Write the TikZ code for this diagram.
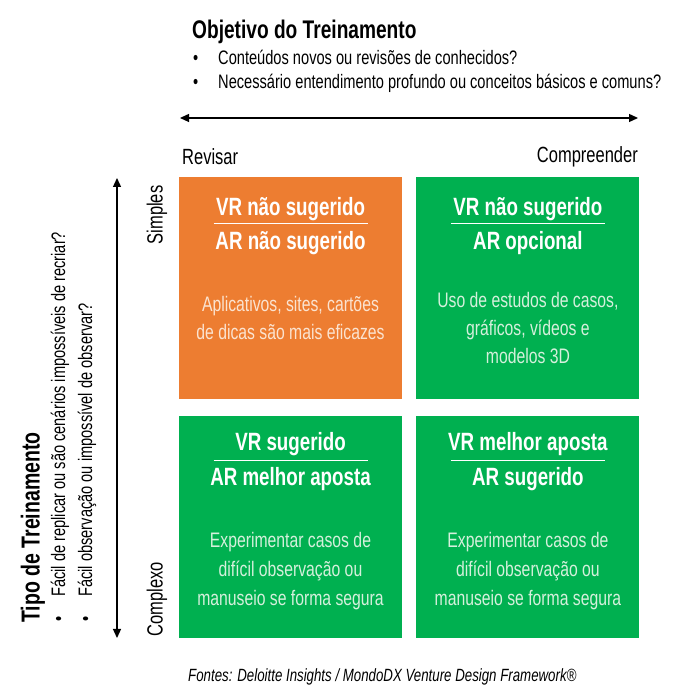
\documentclass[tikz,border=0pt]{standalone}
\usepackage{fontspec}
\setmainfont{Liberation Sans}[FakeStretch=0.75]
\usepackage{tikz}
\usetikzlibrary{arrows.meta,positioning,calc}
\definecolor{quadOrange}{HTML}{ED7D31}
\definecolor{quadGreen}{HTML}{00B050}
\definecolor{peach}{HTML}{FBE3D0}
\definecolor{mint}{HTML}{D5F0DC}

\begin{document}
\begin{tikzpicture}[
        x=1pt, y=1pt,
        node distance=14pt,
        quad/.style={rectangle, minimum width=223pt, minimum height=222pt, inner sep=0pt},
        head/.style={font=\fontsize{25}{28}\selectfont\bfseries, text=white, inner sep=0pt},
        body/.style={font=\fontsize{21}{28}\selectfont, align=center, inner sep=0pt, anchor=north},
        lbl/.style={font=\fontsize{22}{24}\selectfont, inner sep=0pt},
        item/.style={font=\fontsize{19.5}{24}\selectfont, inner sep=0pt, anchor=west},
        ttl/.style={font=\fontsize{25.5}{28}\selectfont\bfseries, inner sep=0pt, anchor=west},
        axis/.style={{Triangle[length=9pt,width=8pt]}-{Triangle[length=9pt,width=8pt]}, line width=1.3pt},
        divider/.style={draw=white, line width=0.8pt}
    ]
        \useasboundingbox (0,0) rectangle (690,700);

        \node[ttl] (obj) at (192,668) {Objetivo do Treinamento};
        \node[item] (obj1) at (218,643) {\llap{•\hspace{20pt}}Conteúdos novos ou revisões de conhecidos?};
        \node[item] (obj2) at (218,617) {\llap{•\hspace{20pt}}Necessário entendimento profundo ou conceitos básicos e comuns?};

        \coordinate (hl) at (180,582);
        \coordinate (hr) at (638,582);
        \draw[axis] (hl) -- (hr);

        \node[lbl, anchor=west] (rev) at (182,543) {Revisar};
        \node[lbl, anchor=east] (comp) at (638,543) {Compreender};

        \node[quad, fill=quadOrange] (rs) at (290.5,412) {};
        \node[quad, fill=quadGreen, right=of rs] (cs) {};
        \node[quad, fill=quadGreen, below=17pt of rs] (rc) {};
        \node[quad, fill=quadGreen, below=17pt of cs] (cc) {};

        \node[head] (rsvr) at ([yshift=-32pt]rs.north) {VR não sugerido};
        \node[head] (rsar) at ([yshift=-66.5pt]rs.north) {AR não sugerido};
        \draw[divider] ([xshift=-77pt,yshift=-47pt]rs.north) -- ([xshift=77pt,yshift=-47pt]rs.north);
        \node[body, text=peach] (rstx) at ([yshift=-119pt]rs.north) {Aplicativos, sites, cartões\\de dicas são mais eficazes};

        \node[head] (csvr) at ([yshift=-32pt]cs.north) {VR não sugerido};
        \node[head] (csar) at ([yshift=-66.5pt]cs.north) {AR opcional};
        \draw[divider] ([xshift=-77pt,yshift=-47pt]cs.north) -- ([xshift=77pt,yshift=-47pt]cs.north);
        \node[body, text=mint] (cstx) at ([yshift=-115pt]cs.north) {Uso de estudos de casos,\\gráficos, vídeos e\\modelos 3D};

        \node[head] (rcvr) at ([yshift=-28pt]rc.north) {VR sugerido};
        \node[head] (rcar) at ([yshift=-62.5pt]rc.north) {AR melhor aposta};
        \draw[divider] ([xshift=-77pt,yshift=-44pt]rc.north) -- ([xshift=77pt,yshift=-44pt]rc.north);
        \node[body, text=mint, font=\fontsize{21}{29}\selectfont] (rctx) at ([yshift=-116pt]rc.north) {Experimentar casos de\\difícil observação ou\\manuseio se forma segura};

        \node[head] (ccvr) at ([yshift=-28pt]cc.north) {VR melhor aposta};
        \node[head] (ccar) at ([yshift=-62.5pt]cc.north) {AR sugerido};
        \draw[divider] ([xshift=-77pt,yshift=-44pt]cc.north) -- ([xshift=77pt,yshift=-44pt]cc.north);
        \node[body, text=mint, font=\fontsize{21}{29}\selectfont] (cctx) at ([yshift=-116pt]cc.north) {Experimentar casos de\\difícil observação ou\\manuseio se forma segura};

        \coordinate (vt) at (117,522);
        \coordinate (vb) at (117,62);
        \draw[axis] (vt) -- (vb);

        \node[lbl, rotate=90] (simp) at (157,485) {Simples};
        \node[lbl, rotate=90] (cplx) at (157,101) {Complexo};

        \node[ttl, font=\fontsize{26}{28}\selectfont\bfseries, rotate=90] (tipo) at (33,77) {Tipo de Treinamento};
        \node[item, rotate=90] (tipo1) at (60,103) {\llap{•\hspace{20pt}}Fácil de replicar ou são cenários impossíveis de recriar?};
        \node[item, rotate=90] (tipo2) at (87,103) {\llap{•\hspace{20pt}}Fácil observação ou impossível de observar?};

        \node[font=\fontsize{17.7}{22}\selectfont\itshape, inner sep=0pt, anchor=west] (src) at (188,23) {Fontes: Deloitte Insights / MondoDX Venture Design Framework®};
    \end{tikzpicture}
\end{document}
